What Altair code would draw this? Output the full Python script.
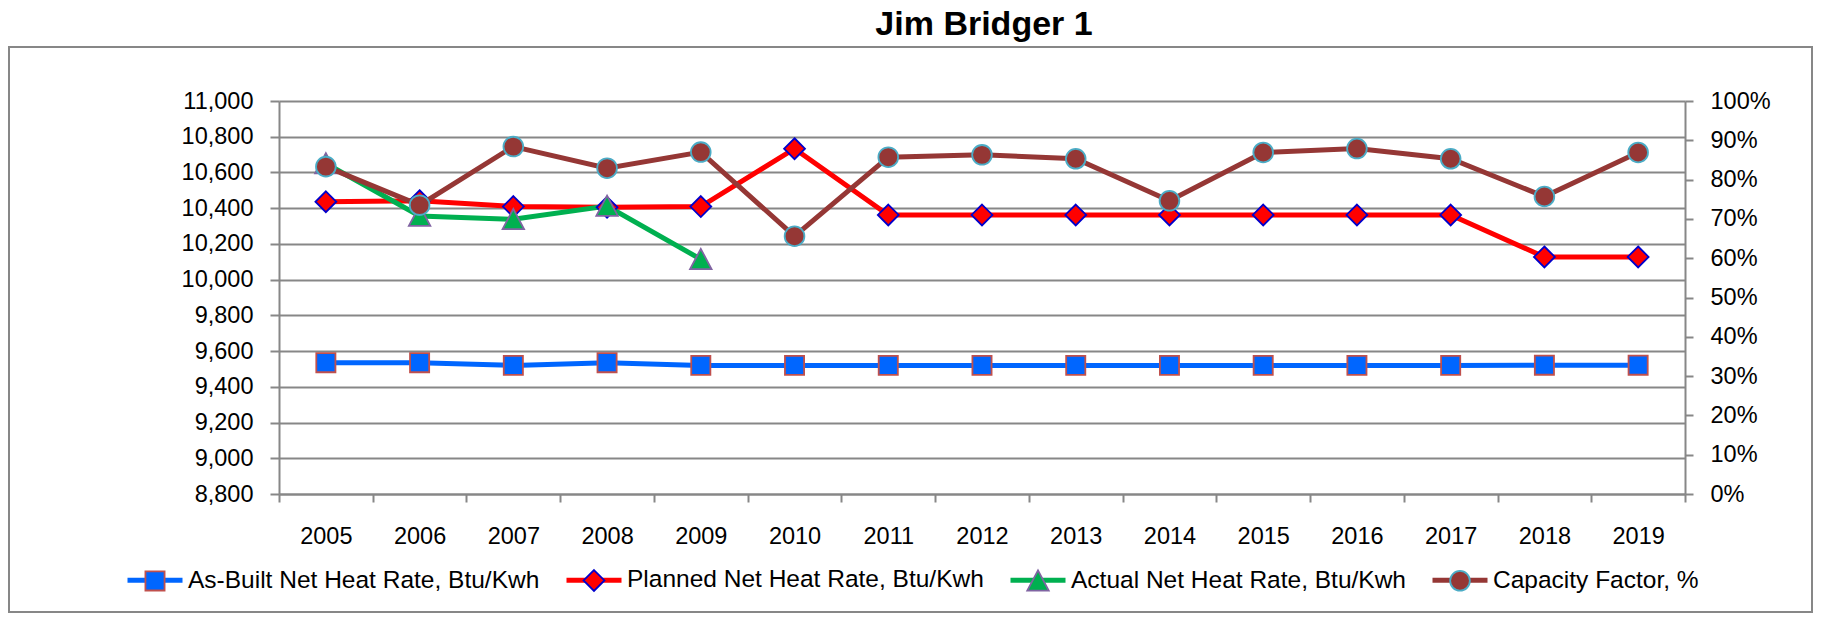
import altair as alt
import pandas as pd

# ---------------- data ----------------
years = [2005, 2006, 2007, 2008, 2009, 2010, 2011, 2012, 2013, 2014, 2015, 2016, 2017, 2018, 2019]
as_built = [9535, 9535, 9520, 9535, 9520, 9520, 9520, 9520, 9520, 9520, 9520, 9520, 9520, 9521, 9521]
planned = [10436, 10442, 10409, 10405, 10409, 10733, 10362, 10362, 10362, 10362, 10362, 10362, 10362, 10127, 10127]
actual_years = [2005, 2006, 2007, 2008, 2009]
actual = [10650, 10356, 10338, 10412, 10114]
capacity = [0.833, 0.735, 0.884, 0.829, 0.870, 0.656, 0.857, 0.863, 0.853, 0.746, 0.869, 0.879, 0.853, 0.757, 0.869]

series = [
    "As-Built Net Heat Rate, Btu/Kwh",
    "Planned Net Heat Rate, Btu/Kwh",
    "Actual Net Heat Rate, Btu/Kwh",
    "Capacity Factor, %",
]
line_colors = ["#0066FF", "#FF0000", "#00B050", "#953735"]
marker_fills = ["#0066FF", "#FF0000", "#00B050", "#953735"]
marker_edges = ["#C0504D", "#0000CC", "#8064A2", "#4BACC6"]
shapes = [
    "M-0.33,-0.33H0.33V0.33H-0.33Z",
    "M0,-0.36L0.36,0L0,0.36L-0.36,0Z",
    "M0,-0.36L0.37,0.34L-0.37,0.34Z",
    "M0.34,0A0.34,0.34,0,1,1,-0.34,0A0.34,0.34,0,1,1,0.34,0Z",
]
left_ticks = list(range(8800, 11001, 200))
right_ticks = [round(i * 0.1, 1) for i in range(11)]

heat_rows = []
for y, v in zip(years, as_built):
    heat_rows.append({"year": y, "series": series[0], "value": v})
for y, v in zip(years, planned):
    heat_rows.append({"year": y, "series": series[1], "value": v})
for y, v in zip(actual_years, actual):
    heat_rows.append({"year": y, "series": series[2], "value": v})
heat_df = pd.DataFrame(heat_rows)
cap_df = pd.DataFrame({"year": years, "series": [series[3]] * len(years), "value": capacity})

FONT = "Liberation Sans"
GRAY = "#878787"

# ---------------- encodings ----------------
x_enc = alt.X(
    "year:O",
    title=None,
    scale=alt.Scale(type="band", paddingInner=0, paddingOuter=0),
    axis=alt.Axis(
        labelAngle=0, tickBand="extent", grid=False,
        domainColor=GRAY, domainWidth=2, tickColor=GRAY, tickWidth=2, tickSize=8,
        labelFont=FONT, labelFontSize=23.5, labelColor="black", labelPadding=22,
    ),
)

y_left = alt.Y(
    "value:Q", title=None,
    scale=alt.Scale(domain=[8800, 11000], nice=False, zero=False),
    axis=alt.Axis(
        orient="left", values=left_ticks, format=",.0f", grid=True,
        gridColor=GRAY, gridWidth=2, domainColor=GRAY, domainWidth=2,
        tickColor=GRAY, tickWidth=2, tickSize=9, labelPadding=17,
        labelFont=FONT, labelFontSize=23.5, labelColor="black",
    ),
)
y_right = alt.Y(
    "value:Q", title=None,
    scale=alt.Scale(domain=[0, 1], nice=False),
    axis=alt.Axis(
        orient="right", values=right_ticks, format=".0%", grid=False,
        domainColor=GRAY, domainWidth=2, tickColor=GRAY, tickWidth=2, tickSize=8,
        labelPadding=17, labelFont=FONT, labelFontSize=23.5, labelColor="black",
    ),
)

# two legends drawn on top of each other: one gives the line, the other the marker
LEG_X = -162
LEG_Y = 449
COL_PAD = 16
SYM_OFF = 8
LAB_OFF = 3
line_legend = alt.Legend(
    title=None, orient="none", legendX=LEG_X, legendY=LEG_Y, direction="horizontal",
    columns=4, values=series, symbolType="stroke", symbolSize=3025, symbolStrokeWidth=5,
    labelFont=FONT, labelFontSize=24.5, labelOpacity=0, labelLimit=600, labelOffset=LAB_OFF,
    columnPadding=COL_PAD, padding=0, symbolOffset=SYM_OFF,
)
pt_legend = alt.Legend(
    title=None, orient="none", legendX=LEG_X, legendY=LEG_Y, direction="horizontal",
    columns=4, symbolSize=3364, symbolStrokeWidth=1.8, symbolOpacity=1,
    labelFont=FONT, labelFontSize=24.5, labelColor="black", labelLimit=600, labelOffset=LAB_OFF,
    columnPadding=COL_PAD, padding=0, symbolOffset=SYM_OFF,
)

color_enc = alt.Color(
    "series:N",
    scale=alt.Scale(domain=series + ["~"], range=line_colors + ["#ffffff"]),
    legend=line_legend,
)
fill_enc = alt.Fill("series:N", scale=alt.Scale(domain=series, range=marker_fills), legend=pt_legend)
stroke_enc = alt.Stroke("series:N", scale=alt.Scale(domain=series, range=marker_edges), legend=pt_legend)
shape_enc = alt.Shape("series:N", scale=alt.Scale(domain=series, range=shapes), legend=pt_legend)

# ---------------- layers ----------------
frame = alt.Chart(pd.DataFrame({"k": [0]})).mark_rect(
    fill="white", fillOpacity=0, stroke=GRAY, strokeWidth=2
).encode(x=alt.value(-270), x2=alt.value(1533), y=alt.value(-54), y2=alt.value(511))

heat_lines = alt.Chart(heat_df).mark_line(strokeWidth=5).encode(
    x=x_enc, y=y_left, color=color_enc, detail="series:N"
)
heat_pts = alt.Chart(heat_df).mark_point(size=3364, opacity=1, filled=True, strokeWidth=1.8).encode(
    x=x_enc, y=y_left, fill=fill_enc, stroke=stroke_enc, shape=shape_enc
)
cap_line = alt.Chart(cap_df).mark_line(strokeWidth=5).encode(
    x=x_enc, y=y_right, color=color_enc
)
cap_pts = alt.Chart(cap_df).mark_point(size=3364, opacity=1, filled=True, strokeWidth=1.8).encode(
    x=x_enc, y=y_right, fill=fill_enc, stroke=stroke_enc, shape=shape_enc
)

chart = alt.layer(
    frame,
    alt.layer(heat_lines, heat_pts),
    alt.layer(cap_line, cap_pts),
).resolve_scale(y="independent").properties(
    width=1406,
    height=393,
    padding=0,
    title=alt.Title(
        "Jim Bridger 1", font=FONT, fontSize=34, fontWeight="bold", color="black",
        anchor="middle", frame="group", offset=-23, baseline="alphabetic", dx=2,
    ),
).configure_view(strokeWidth=0)

chart.save("out.html", embed_options={"renderer": "svg", "actions": False})
